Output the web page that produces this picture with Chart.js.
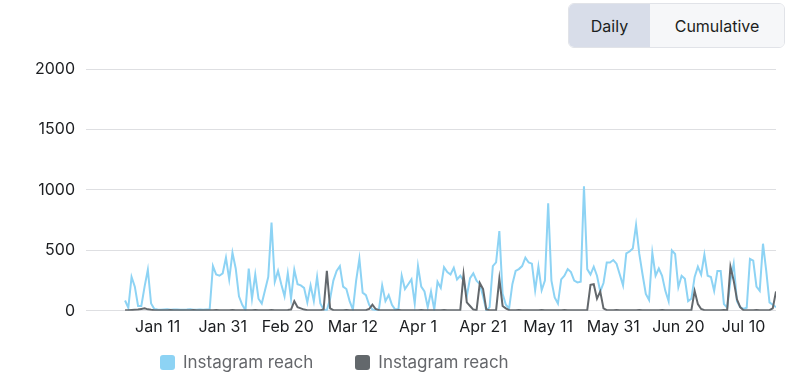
<!DOCTYPE html>
<html>
<head>
<meta charset="utf-8">
<script src="https://cdn.jsdelivr.net/npm/chart.js@4.4.0/dist/chart.umd.min.js"></script>
<style>
  html, body { margin: 0; padding: 0; background: #fff; }
  body { width: 792px; height: 376px; position: relative; overflow: hidden; font-family: Inter, "Noto Sans", sans-serif; }
  #wrap { position: absolute; left: 0; top: 0; width: 792px; height: 376px; }
  .toggle { position: absolute; left: 568px; top: 3px; width: 217px; height: 45px; display: flex;
            border: 1px solid #e1e3e8; border-radius: 6px; overflow: hidden; box-sizing: border-box; }
  .toggle div { display: flex; align-items: center; justify-content: center; font-size: 16px; color: #1c1e21; }
  .toggle .on { width: 81px; background: #d8dde9; }
  .toggle .off { flex: 1; background: #f6f7f9; }
  #legend { position: absolute; top: 352px; left: 160px; display: flex; gap: 42px; font-size: 17px; color: #65676b; }
  #legend span.item { display: flex; align-items: center; }
  #legend span.box { width: 15px; height: 15px; border-radius: 3px; margin-right: 8px; display: inline-block; }
</style>
</head>
<body>
<div id="wrap"><canvas id="chart" width="792" height="376"></canvas></div>
<div class="toggle"><div class="on">Daily</div><div class="off">Cumulative</div></div>
<div id="legend"></div>
<script>
// days counted from Jan 1
const tickDays = [10, 30, 50, 70, 90, 110, 130, 150, 170, 190];
const tickLabels = ['Jan 11', 'Jan 31', 'Feb 20', 'Mar 12', 'Apr 1', 'Apr 21', 'May 11', 'May 31', 'Jun 20', 'Jul 10'];

const reachBlue = [
  85, 25, 280, 200, 40, 40, 200, 340, 60, 15,
  10, 8, 10, 12, 9, 10, 11, 8, 9, 10,
  12, 9, 8, 10, 9, 11, 12, 370, 300, 290,
  310, 440, 260, 480, 350, 120, 50, 5, 350, 100,
  300, 100, 60, 170, 280, 730, 240, 330, 220, 120,
  310, 100, 340, 220, 210, 190, 70, 210, 80, 280,
  60, 10, 5, 100, 250, 330, 370, 200, 180, 80,
  10, 250, 430, 150, 130, 50, 10, 5, 10, 210,
  80, 130, 50, 10, 15, 290, 180, 220, 260, 60,
  370, 200, 160, 30, 160, 10, 240, 190, 360, 320,
  300, 355, 260, 290, 250, 120, 270, 310, 250, 220,
  120, 0, 30, 370, 400, 660, 140, 50, 20, 220,
  330, 345, 370, 440, 400, 390, 170, 365, 170, 250,
  890, 250, 110, 60, 260, 290, 345, 320, 250, 235,
  240, 1030, 345, 300, 365, 290, 160, 230, 400, 400,
  420, 390, 300, 210, 475, 490, 515, 710, 470, 300,
  140, 90, 480, 290, 350, 290, 165, 80, 500, 470,
  195, 290, 265, 80, 100, 280, 365, 300, 465, 290,
  280, 165, 330, 330, 55, 25, 250, 390, 80, 30,
  15, 25, 430, 415, 200, 165, 555, 330, 70, 50,
  30
];

const reachGray = [
  5, 4, 6, 8, 10, 15, 20, 12, 8, 5,
  4, 5, 4, 5, 6, 5, 4, 5, 5, 4,
  5, 6, 5, 4, 5, 5, 4, 5, 6, 5,
  4, 5, 5, 6, 5, 4, 5, 5, 4, 5,
  6, 5, 5, 4, 5, 6, 5, 4, 5, 5,
  6, 10, 80, 30, 20, 10, 5, 5, 4, 5,
  5, 10, 330, 20, 5, 5, 4, 5, 6, 5,
  4, 5, 5, 4, 5, 15, 50, 15, 5, 4,
  5, 5, 4, 5, 6, 5, 4, 5, 5, 4,
  5, 6, 5, 4, 5, 5, 4, 5, 6, 5,
  4, 5, 5, 6, 300, 70, 40, 10, 5, 230,
  180, 10, 5, 5, 5, 265, 40, 20, 5, 4,
  5, 6, 5, 4, 5, 5, 4, 5, 6, 5,
  4, 5, 5, 4, 5, 6, 5, 4, 5, 5,
  4, 5, 5, 215, 220, 100, 160, 20, 5, 4,
  5, 6, 5, 4, 5, 5, 4, 5, 6, 5,
  4, 5, 5, 4, 5, 6, 5, 4, 5, 5,
  4, 5, 5, 4, 5, 165, 55, 15, 5, 4,
  5, 5, 4, 5, 6, 5, 365, 250, 95, 30,
  5, 4, 5, 5, 6, 5, 4, 5, 5, 20,
  160
];

const seriesNames = ['Instagram reach', 'Instagram reach'];
const seriesColors = ['#8dd3f4', '#63686c'];

const toPoints = arr => arr.map((v, i) => ({ x: i, y: v }));

const chart = new Chart(document.getElementById('chart').getContext('2d'), {
  type: 'line',
  data: {
    datasets: [
      {
        label: seriesNames[0],
        data: toPoints(reachBlue),
        borderColor: seriesColors[0],
        backgroundColor: seriesColors[0],
        borderWidth: 2,
        pointRadius: 0,
        tension: 0,
        order: 1
      },
      {
        label: seriesNames[1],
        data: toPoints(reachGray),
        borderColor: seriesColors[1],
        backgroundColor: seriesColors[1],
        borderWidth: 2,
        pointRadius: 0,
        tension: 0,
        order: 0
      }
    ]
  },
  options: {
    responsive: false,
    animation: false,
    layout: { padding: { left: 0, right: 16, top: 69, bottom: 32 } },
    scales: {
      x: {
        type: 'linear',
        min: -12,
        max: 200,
        grid: { display: false, drawTicks: false },
        border: { display: false },
        afterBuildTicks: axis => { axis.ticks = tickDays.map(v => ({ value: v })); },
        ticks: {
          autoSkip: false,
          maxRotation: 0,
          padding: 7,
          color: '#1c1e21',
          font: { family: 'Inter', size: 16 },
          callback: value => tickLabels[tickDays.indexOf(value)]
        }
      },
      y: {
        min: 0,
        max: 2000,
        afterFit: axis => { axis.width = 86; },
        grid: { color: '#dedfe2', drawTicks: false },
        border: { display: false },
        ticks: {
          stepSize: 500,
          padding: 11,
          color: '#1c1e21',
          font: { family: 'Inter', size: 16 },
          callback: value => String(value)
        }
      }
    },
    plugins: {
      legend: { display: false },
      tooltip: { enabled: false }
    }
  }
});

// legend below the plot, built from the datasets
const legend = document.getElementById('legend');
chart.data.datasets.forEach(ds => {
  const item = document.createElement('span');
  item.className = 'item';
  const box = document.createElement('span');
  box.className = 'box';
  box.style.background = ds.borderColor;
  item.appendChild(box);
  item.appendChild(document.createTextNode(ds.label));
  legend.appendChild(item);
});
</script>
</body>
</html>
